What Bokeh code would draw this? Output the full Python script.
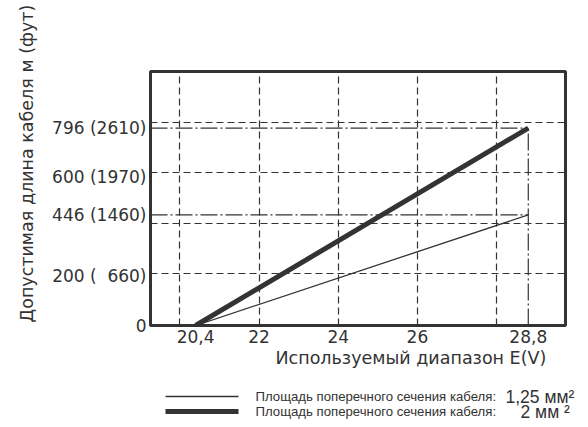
from bokeh.plotting import figure
from bokeh.layouts import column
from bokeh.models import Range1d, FixedTicker, Title
from bokeh.core.properties import value
from bokeh.embed import file_html
from bokeh.resources import INLINE

# ---- data ----
x_line = [20.4, 28.8]
y_thin = [0, 446]      # 1,25 mm2
y_thick = [0, 796]     # 2 mm2
x_ticks = [20.4, 22, 24, 26, 28.8]
x_tick_labels = ["20,4", "22", "24", "26", "28,8"]
y_ticks = [0, 200, 446, 600, 796]
y_tick_labels = ["0", "200 (\u00a0 660)", "446 (1460)", "600 (1970)", "796 (2610)"]
x_grid = [20, 22, 24, 26, 28]
y_grid = [208, 411, 616, 820]
legend_labels = ["Площадь поперечного сечения кабеля:", "Площадь поперечного сечения кабеля:"]
legend_values = ["1,25 мм²", "2 мм ²"]
x_title = "Используемый диапазон E(V)"
y_title = "Допустимая длина кабеля м (фут)"

C = "#333333"
FONT = "DejaVu Sans"

x0, x1 = 19.26, 29.74
y0, y1 = 0, 1024
BL = 150

p = figure(width=567, height=372, output_backend="svg", toolbar_location=None,
           x_range=Range1d(x0, x1), y_range=Range1d(y0, y1),
           min_border_left=BL, min_border_right=2, min_border_top=71, min_border_bottom=47)
p.background_fill_color = "white"
p.border_fill_color = "white"
p.outline_line_color = C
p.outline_line_width = 3

for ax in (p.xaxis[0], p.yaxis[0]):
    ax.axis_line_color = None
    ax.major_tick_line_color = None
    ax.minor_tick_line_color = None
    ax.major_tick_out = 0
    ax.major_tick_in = 0
    ax.minor_tick_out = 0
    ax.major_label_text_font = FONT
    ax.major_label_text_font_size = "17px"
    ax.major_label_text_color = C

p.xaxis[0].ticker = FixedTicker(ticks=x_ticks)
p.xaxis[0].major_label_overrides = {t: l for t, l in zip(x_ticks, x_tick_labels)}
p.xaxis[0].major_label_standoff = 4
p.yaxis[0].ticker = FixedTicker(ticks=y_ticks)
p.yaxis[0].major_label_overrides = {t: l for t, l in zip(y_ticks, y_tick_labels)}
p.yaxis[0].major_label_standoff = 4

p.xgrid.ticker = FixedTicker(ticks=x_grid)
p.ygrid.ticker = FixedTicker(ticks=y_grid)
for g in (p.xgrid, p.ygrid):
    g.grid_line_color = C
    g.grid_line_width = 1.2
    g.grid_line_dash = "7 4"

# dash-dot reference lines
dd = "17 3 2 3"
p.segment(x0=[x0, x0, x_line[1]], y0=[y_thin[1], y_thick[1], 0],
          x1=[x_line[1], x_line[1], x_line[1]], y1=[y_thin[1], y_thick[1], y_thick[1]],
          line_color=C, line_width=1.2, line_dash=dd)

p.line(x_line, y_thin, line_color=C, line_width=1.3)
p.line(x_line, y_thick, line_color=C, line_width=5)

# titles
p.add_layout(Title(text=y_title, align="left", offset=3, standoff=26,
                   text_font=FONT, text_font_size="17.5px", text_color=C,
                   text_font_style="normal"), "left")
p.add_layout(Title(text=x_title, align="left", offset=125, standoff=0,
                   text_font=FONT, text_font_size="17.5px", text_color=C,
                   text_font_style="normal"), "below")

# legend figure: coordinates = page pixels
W, H, BR = 580, 55, 2
lf = figure(width=W, height=H, output_backend="svg", toolbar_location=None,
            x_range=Range1d(BL, W - BR), y_range=Range1d(H, 0),
            min_border_left=BL, min_border_right=BR, min_border_top=0, min_border_bottom=0)
lf.axis.visible = False
lf.grid.visible = False
lf.outline_line_color = None
lf.background_fill_color = "white"
lf.border_fill_color = "white"

leg_y = [24, 39]
widths = [1.3, 5]
val_x = [505, 520]
for yy, w, lab, val, vx in zip(leg_y, widths, legend_labels, legend_values, val_x):
    lf.segment(x0=[165], y0=[yy], x1=[238], y1=[yy], line_color=C, line_width=w)
    lf.text(x=[255], y=[yy], text=[lab], text_align="left", text_baseline="middle",
            text_font=value("Liberation Sans"), text_font_size="13.2px", text_color=C)
    lf.text(x=[vx], y=[yy], text=[val], text_align="left", text_baseline="middle",
            text_font=value("Liberation Sans"), text_font_size="17.5px", text_color=C)

layout = column(p, lf, spacing=0)
open("out.html", "w").write(file_html(layout, INLINE))
